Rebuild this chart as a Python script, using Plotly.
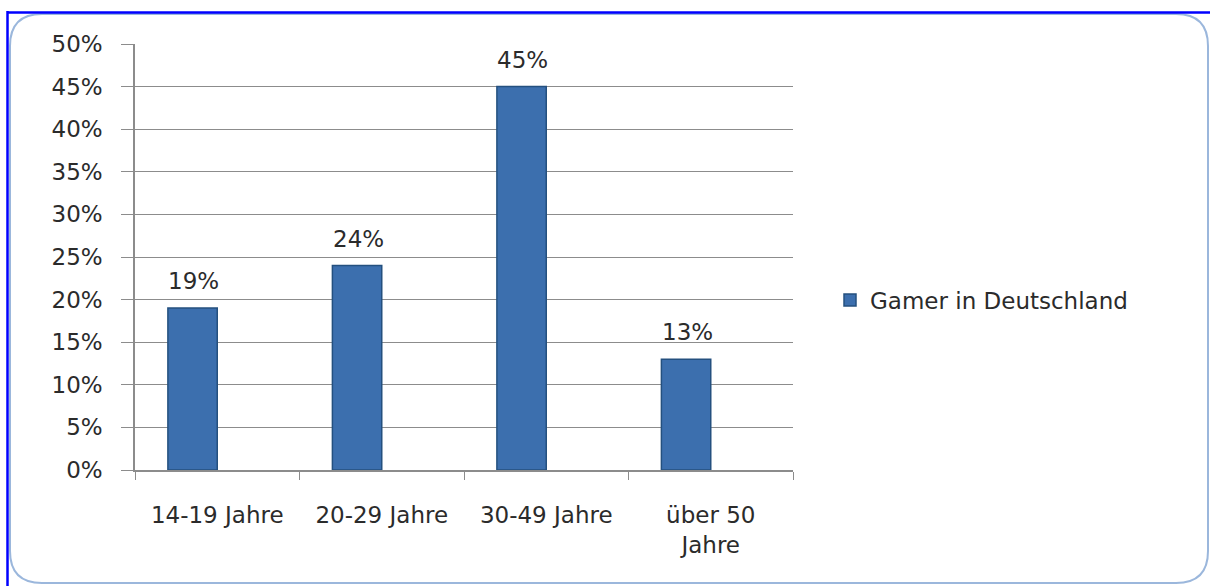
import plotly.graph_objects as go

categories = ["14-19 Jahre", "20-29 Jahre", "30-49 Jahre", "über 50<br>Jahre"]
values = [0.19, 0.24, 0.45, 0.13]
labels = ["19%", "24%", "45%", "13%"]
series_name = "Gamer in Deutschland"

W, H = 1210, 586
L, R, T, B = 135, 793, 44, 470

def px(x):
    return (x - L) / (R - L)

def py(y):
    return (B - y) / (B - T)

FONT = "DejaVu Sans"
FS = 23
TXT = "#2b2b2b"
BAR_W = 0.30
CAT_PX = (R - L) / len(categories)

fig = go.Figure()
fig.add_trace(go.Bar(
    x=categories, y=values, name=series_name,
    width=BAR_W, offset=-BAR_W,
    marker=dict(color="#3c6fae", line=dict(color="#24507f", width=1.5)),
))

annotations = [
    dict(x=c, y=v, text=t, xref="x", yref="y", showarrow=False,
         xanchor="center", yanchor="middle", xshift=-BAR_W / 2 * CAT_PX + 1, yshift=27,
         font=dict(family=FONT, size=FS, color=TXT))
    for c, v, t in zip(categories, values, labels)
]

# rounded frame
x0, x1, y0, y1, r = 10, 1208, 14, 583, 32
path = (f"M {px(x0+r)},{py(y0)} L {px(x1-r)},{py(y0)} Q {px(x1)},{py(y0)} {px(x1)},{py(y0+r)} "
        f"L {px(x1)},{py(y1-r)} Q {px(x1)},{py(y1)} {px(x1-r)},{py(y1)} "
        f"L {px(x0+r)},{py(y1)} Q {px(x0)},{py(y1)} {px(x0)},{py(y1-r)} "
        f"L {px(x0)},{py(y0+r)} Q {px(x0)},{py(y0)} {px(x0+r)},{py(y0)} Z")
shapes = [
    dict(type="path", xref="paper", yref="paper", path=path,
         line=dict(color="#9bb7dc", width=2), fillcolor="rgba(0,0,0,0)", layer="below"),
    dict(type="line", xref="paper", yref="paper", x0=px(7), x1=px(1210), y0=py(12.5), y1=py(12.5),
         line=dict(color="#0000ff", width=2.5)),
    dict(type="line", xref="paper", yref="paper", x0=px(7.5), x1=px(7.5), y0=py(11), y1=py(586),
         line=dict(color="#0000ff", width=2.5)),
]

fig.update_layout(
    width=W, height=H,
    margin=dict(l=L, r=W - R, t=T, b=H - B),
    paper_bgcolor="white", plot_bgcolor="white",
    shapes=shapes,
    annotations=annotations,
    showlegend=True,
    legend=dict(x=px(830), y=py(300), xanchor="left", yanchor="middle",
                font=dict(family=FONT, size=FS, color=TXT), bgcolor="rgba(0,0,0,0)"),
    xaxis=dict(
        tickson="boundaries", ticks="outside", ticklen=8, tickcolor="#8c8c8c",
        showline=True, linecolor="#8c8c8c", linewidth=1.5, showgrid=False,
        tickfont=dict(family=FONT, size=FS, color=TXT), ticklabelstandoff=24,
    ),
    yaxis=dict(
        range=[0, 0.5], dtick=0.05, tickformat=".0%",
        ticks="outside", ticklen=12, tickcolor="#8c8c8c",
        showline=True, linecolor="#8c8c8c", linewidth=1.5,
        showgrid=True, gridcolor="#8c8c8c", gridwidth=1, zeroline=False,
        tickfont=dict(family=FONT, size=FS, color=TXT), ticklabelstandoff=14,
    ),
)

fig.write_html("out.html", config={"displayModeBar": False},
               post_script="document.body.style.margin='0';document.body.style.overflow='hidden';")
